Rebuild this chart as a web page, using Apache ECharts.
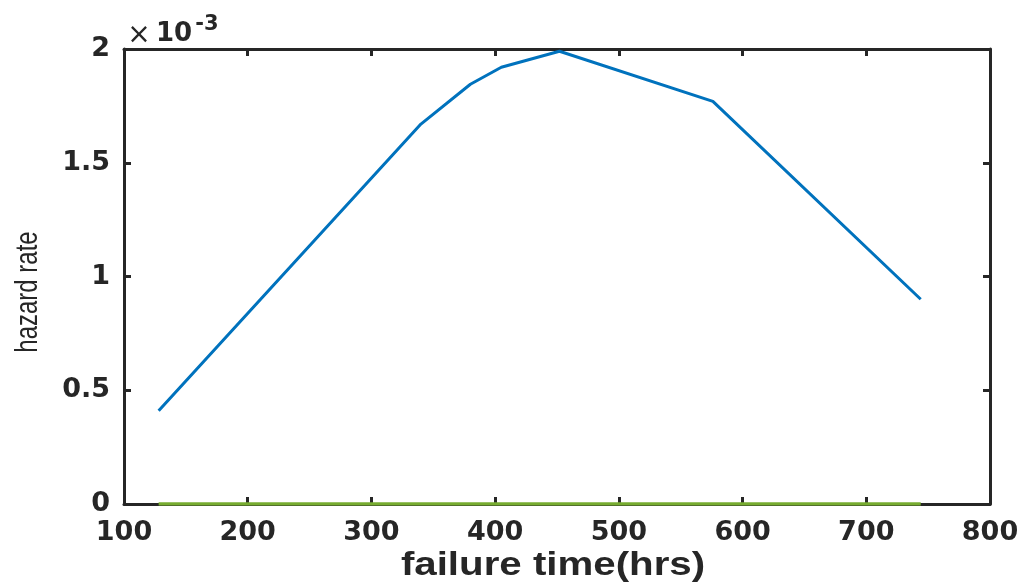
<!DOCTYPE html>
<html>
<head>
<meta charset="utf-8">
<script src="https://cdn.jsdelivr.net/npm/echarts@6/dist/echarts.min.js"></script>
<style>
  html, body { margin: 0; padding: 0; background: #fff; }
  #main { width: 1025px; height: 582px; }
</style>
</head>
<body>
<div id="main"></div>
<script>
// failure time (hrs) and hazard rate
const failureTime = [128, 340, 380, 405, 452, 576, 744];
const hazardRate = [0.41e-3, 1.67e-3, 1.845e-3, 1.92e-3, 1.99e-3, 1.77e-3, 0.9e-3];
// green baseline series (zero hazard)
const baseTime = [128, 744];
const baseRate = [0, 0];

const xTicks = { min: 100, max: 800, step: 100 };
const yTicks = { min: 0, max: 2e-3, step: 0.5e-3 };

const axisColor = '#262626';
const tickFont = { fontFamily: 'DejaVu Sans', fontWeight: 'bold', fontSize: 27, color: axisColor };

function fmtY(v) {
    return String(parseFloat((v * 1000).toFixed(2)));
}

let myChart = echarts.init(document.getElementById('main'));

const axLine = { show: true, onZero: false, lineStyle: { color: axisColor, width: 3 } };
const axTick = { show: true, inside: true, length: 7, lineStyle: { color: axisColor, width: 3 } };

myChart.setOption({
    animation: false,
    grid: { left: 124, right: 35, top: 49, bottom: 78, containLabel: false, outerBoundsMode: 'none' },
    xAxis: [{
        type: 'value', position: 'bottom',
        min: xTicks.min, max: xTicks.max, interval: xTicks.step,
        axisLine: axLine, axisTick: axTick, splitLine: { show: false },
        axisLabel: Object.assign({ margin: 15 }, tickFont)
    }, {
        type: 'value', position: 'top',
        min: xTicks.min, max: xTicks.max, interval: xTicks.step,
        axisLine: axLine, axisTick: axTick, splitLine: { show: false },
        axisLabel: { show: false }
    }],
    yAxis: [{
        type: 'value', position: 'left',
        min: yTicks.min, max: yTicks.max, interval: yTicks.step,
        axisLine: axLine, axisTick: axTick, splitLine: { show: false },
        axisLabel: Object.assign({ margin: 14, formatter: fmtY }, tickFont)
    }, {
        type: 'value', position: 'right',
        min: yTicks.min, max: yTicks.max, interval: yTicks.step,
        axisLine: axLine, axisTick: axTick, splitLine: { show: false },
        axisLabel: { show: false }
    }],
    graphic: [{
        // x axis title, stretched like the source figure
        type: 'text', x: 553, y: 566, scaleX: 1.22,
        style: { text: 'failure time(hrs)', font: 'bold 33px "Liberation Sans"', fill: axisColor,
                 align: 'center', verticalAlign: 'middle' }
    }, {
        // y axis title
        type: 'text', x: 28, y: 292, rotation: Math.PI / 2, scaleY: 1.3,
        style: { text: 'hazard rate', font: '24px "Liberation Sans"', fill: axisColor,
                 align: 'center', verticalAlign: 'middle' }
    }, {
        type: 'text', x: 139, y: 36,
        style: { text: '×', font: '28px "DejaVu Sans"', fill: axisColor, align: 'center', verticalAlign: 'middle' }
    }, {
        type: 'text', x: 174, y: 34,
        style: { text: '10', font: 'bold 26px "DejaVu Sans"', fill: axisColor, align: 'center', verticalAlign: 'middle' }
    }, {
        type: 'text', x: 207, y: 25,
        style: { text: '-3', font: 'bold 21px "DejaVu Sans"', fill: axisColor, align: 'center', verticalAlign: 'middle' }
    }],
    series: [{
        name: 'hazard',
        type: 'line',
        xAxisIndex: 0, yAxisIndex: 0,
        data: failureTime.map((t, i) => [t, hazardRate[i]]),
        symbol: 'none',
        lineStyle: { color: '#0072BD', width: 3 },
        z: 3
    }, {
        name: 'baseline',
        type: 'line',
        xAxisIndex: 0, yAxisIndex: 0,
        data: baseTime.map((t, i) => [t, baseRate[i]]),
        symbol: 'none',
        lineStyle: { color: '#77AC30', width: 3.5 },
        z: 4
    }]
});
</script>
</body>
</html>
